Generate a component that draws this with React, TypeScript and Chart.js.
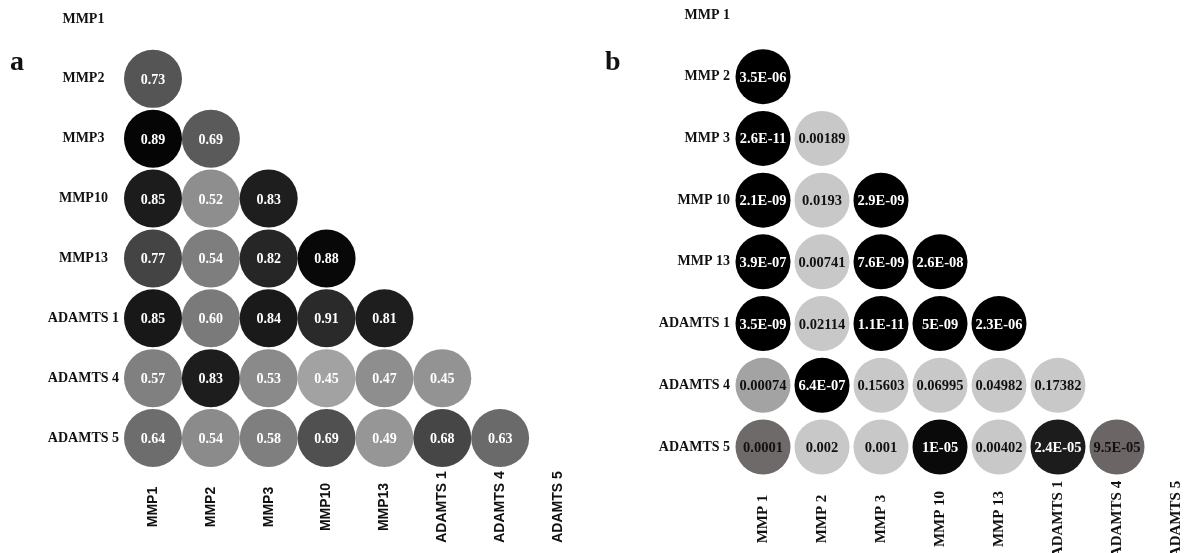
import React, { useEffect, useRef } from 'react';
import { Chart, registerables } from 'chart.js';

Chart.register(...registerables);

// ---------- data ----------
const genesA = ['MMP1', 'MMP2', 'MMP3', 'MMP10', 'MMP13', 'ADAMTS 1', 'ADAMTS 4', 'ADAMTS 5'];
const genesB = ['MMP 1', 'MMP 2', 'MMP 3', 'MMP 10', 'MMP 13', 'ADAMTS 1', 'ADAMTS 4', 'ADAMTS 5'];

// lower triangle, row i+1 against columns 0..i
const corrValues = [
  [0.73],
  [0.89, 0.69],
  [0.85, 0.52, 0.83],
  [0.77, 0.54, 0.82, 0.88],
  [0.85, 0.6, 0.84, 0.91, 0.81],
  [0.57, 0.83, 0.53, 0.45, 0.47, 0.45],
  [0.64, 0.54, 0.58, 0.69, 0.49, 0.68, 0.63],
];
const corrShades = [
  ['#555555'],
  ['#050505', '#5a5a5a'],
  ['#1c1c1c', '#8e8e8e', '#1e1e1e'],
  ['#444444', '#7e7e7e', '#262626', '#080808'],
  ['#181818', '#7a7a7a', '#1a1a1a', '#2a2a2a', '#1e1e1e'],
  ['#808080', '#1d1d1d', '#8a8a8a', '#a2a2a2', '#8e8e8e', '#939393'],
  ['#6d6d6d', '#8b8b8b', '#7f7f7f', '#505050', '#969696', '#464646', '#6a6a6a'],
];

const pValues = [
  ['3.5E-06'],
  ['2.6E-11', '0.00189'],
  ['2.1E-09', '0.0193', '2.9E-09'],
  ['3.9E-07', '0.00741', '7.6E-09', '2.6E-08'],
  ['3.5E-09', '0.02114', '1.1E-11', '5E-09', '2.3E-06'],
  ['0.00074', '6.4E-07', '0.15603', '0.06995', '0.04982', '0.17382'],
  ['0.0001', '0.002', '0.001', '1E-05', '0.00402', '2.4E-05', '9.5E-05'],
];
const pShades = [
  ['#000000'],
  ['#000000', '#c8c8c8'],
  ['#000000', '#c8c8c8', '#000000'],
  ['#000000', '#c8c8c8', '#000000', '#000000'],
  ['#000000', '#c8c8c8', '#000000', '#000000', '#000000'],
  ['#a3a3a3', '#000000', '#c8c8c8', '#c8c8c8', '#c8c8c8', '#c8c8c8'],
  ['#6f6a6a', '#c8c8c8', '#c8c8c8', '#0a0a0a', '#c8c8c8', '#1c1c1c', '#6b6565'],
];
const pTextColors = [
  ['#ffffff'],
  ['#ffffff', '#111111'],
  ['#ffffff', '#111111', '#ffffff'],
  ['#ffffff', '#111111', '#ffffff', '#ffffff'],
  ['#ffffff', '#111111', '#ffffff', '#ffffff', '#ffffff'],
  ['#111111', '#ffffff', '#111111', '#111111', '#111111', '#111111'],
  ['#111111', '#111111', '#111111', '#ffffff', '#111111', '#ffffff', '#111111'],
];

const SERIF = "'Liberation Serif', 'Times New Roman', serif";
const SANS = "'Liberation Sans', Arial, sans-serif";

type PanelCfg = {
  genes: string[];
  texts: string[][];
  fills: string[][];
  textColors: string[][];
  width: number;
  height: number;
  padding: { left: number; right: number; top: number; bottom: number };
  yAxisWidth: number;
  yCrossAlign: 'near' | 'center';
  yGap: number;
  radius: number;
  cellFont: string;
  xLabelFont: string;
  xLabelCenterY: number;
  letter: string;
  letterX: number;
  letterY: number;
};

function buildChart(canvas: HTMLCanvasElement, p: PanelCfg) {
  const points: { x: string; y: string }[] = [];
  const fills: string[] = [];
  const texts: string[] = [];
  const tcolors: string[] = [];
  p.texts.forEach((row, r) => {
    row.forEach((t, c) => {
      points.push({ x: p.genes[c], y: p.genes[r + 1] });
      fills.push(p.fills[r][c]);
      texts.push(t);
      tcolors.push(p.textColors[r][c]);
    });
  });

  const cellText = {
    id: 'cellText',
    afterDatasetsDraw(chart: any) {
      const ctx = chart.ctx;
      const meta = chart.getDatasetMeta(0);
      ctx.save();
      ctx.font = p.cellFont;
      ctx.textAlign = 'center';
      ctx.textBaseline = 'alphabetic';
      meta.data.forEach((el: any, i: number) => {
        ctx.fillStyle = tcolors[i];
        ctx.fillText(texts[i], el.x, el.y + 5);
      });
      ctx.restore();
    },
  };

  const xLabels = {
    id: 'xLabels',
    afterDraw(chart: any) {
      const ctx = chart.ctx;
      const xs = chart.scales.x;
      ctx.save();
      ctx.font = p.xLabelFont;
      ctx.fillStyle = '#111111';
      ctx.textAlign = 'center';
      ctx.textBaseline = 'middle';
      p.genes.forEach((g, i) => {
        const x = xs.getPixelForValue(i);
        ctx.save();
        ctx.translate(x, p.xLabelCenterY);
        ctx.rotate(-Math.PI / 2);
        ctx.fillText(g, 0, 0);
        ctx.restore();
      });
      ctx.font = `bold 28px ${SERIF}`;
      ctx.textAlign = 'left';
      ctx.textBaseline = 'alphabetic';
      ctx.fillText(p.letter, p.letterX, p.letterY);
      ctx.restore();
    },
  };

  return new Chart(canvas, {
    type: 'bubble',
    data: {
      datasets: [
        {
          data: points as any,
          backgroundColor: fills,
          borderWidth: 0,
          radius: p.radius,
          hoverRadius: 0,
          clip: false as any,
        } as any,
      ],
    },
    options: {
      responsive: false,
      animation: false,
      events: [],
      layout: { padding: p.padding, autoPadding: false },
      plugins: { legend: { display: false }, tooltip: { enabled: false } },
      scales: {
        x: {
          type: 'category',
          labels: p.genes,
          offset: false,
          grid: { display: false },
          border: { display: false },
          ticks: { display: false },
          afterFit: (s: any) => {
            s.height = 0;
            s.paddingLeft = 0;
            s.paddingRight = 0;
          },
        },
        y: {
          type: 'category',
          labels: p.genes,
          offset: false,
          grid: {
            display: true,
            drawOnChartArea: false,
            drawTicks: true,
            tickLength: p.yGap,
            color: 'rgba(0,0,0,0)',
          },
          border: { display: false },
          ticks: {
            font: { family: SERIF, size: 14, weight: 'bold' },
            color: '#111111',
            crossAlign: p.yCrossAlign,
            padding: 0,
            autoSkip: false,
          },
          afterFit: (s: any) => {
            s.width = p.yAxisWidth;
            s.paddingTop = 0;
            s.paddingBottom = 0;
          },
        },
      },
    } as any,
    plugins: [cellText, xLabels],
  });
}

const panelA: PanelCfg = {
  genes: genesA,
  texts: corrValues.map((row) => row.map((v) => v.toFixed(2))),
  fills: corrShades,
  textColors: corrShades.map((row) => row.map(() => '#ffffff')),
  width: 590,
  height: 553,
  padding: { left: 0, right: 32, top: 19, bottom: 115 },
  yAxisWidth: 153,
  yCrossAlign: 'center',
  yGap: 34,
  radius: 29,
  cellFont: `bold 14px ${SERIF}`,
  xLabelFont: `bold 14px ${SANS}`,
  xLabelCenterY: 507,
  letter: 'a',
  letterX: 10,
  letterY: 70,
};

const panelB: PanelCfg = {
  genes: genesB,
  texts: pValues,
  fills: pShades,
  textColors: pTextColors,
  width: 594,
  height: 553,
  padding: { left: 0, right: 8, top: 15, bottom: 106 },
  yAxisWidth: 173,
  yCrossAlign: 'near',
  yGap: 33,
  radius: 27.5,
  cellFont: `bold 14.5px ${SERIF}`,
  xLabelFont: `bold 15px ${SERIF}`,
  xLabelCenterY: 519,
  letter: 'b',
  letterX: 15,
  letterY: 70,
};

function Panel({ cfg, left }: { cfg: PanelCfg; left: number }) {
  const ref = useRef<HTMLCanvasElement | null>(null);
  useEffect(() => {
    if (!ref.current) return;
    const chart = buildChart(ref.current, cfg);
    return () => chart.destroy();
  }, [cfg]);
  return (
    <canvas
      ref={ref}
      width={cfg.width}
      height={cfg.height}
      style={{ position: 'absolute', left, top: 0, width: cfg.width, height: cfg.height }}
    />
  );
}

export default function App() {
  return (
    <div
      style={{
        position: 'absolute',
        left: 0,
        top: 0,
        width: 1184,
        height: 553,
        background: '#ffffff',
        overflow: 'hidden',
      }}
    >
      <Panel cfg={panelA} left={0} />
      <Panel cfg={panelB} left={590} />
    </div>
  );
}
